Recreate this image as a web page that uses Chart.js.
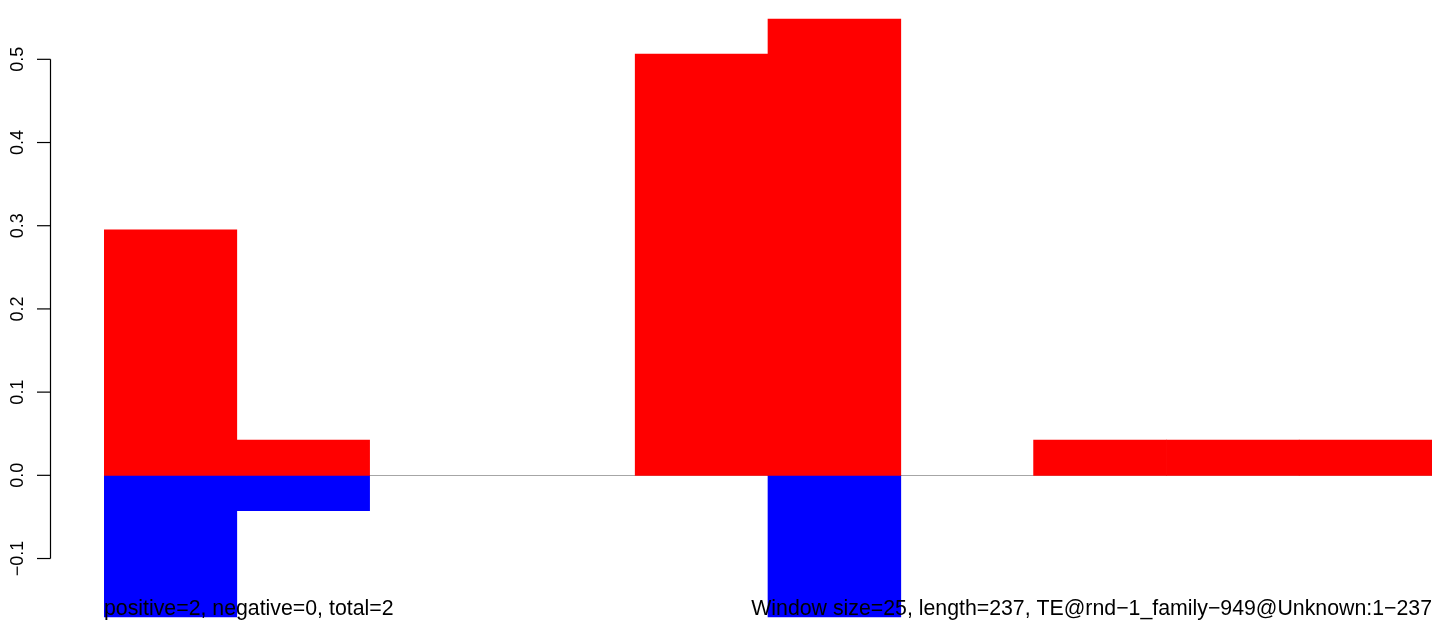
<!DOCTYPE html>
<html>
<head>
<meta charset="utf-8">
<script src="https://cdn.jsdelivr.net/npm/chart.js@4.4.0/dist/chart.umd.min.js"></script>
<style>
  html, body { margin: 0; padding: 0; background: #fff; }
  #wrap { width: 1444px; height: 621px; position: relative; }
</style>
</head>
<body>
<div id="wrap"><canvas id="c" width="1444" height="621"></canvas></div>
<script>
const bins = ["1","2","3","4","5","6","7","8","9","10"];
const positiveValues = [0.295, 0.0424, null, null, 0.5064, 0.5484, null, 0.0424, 0.0424, 0.0424];
const negativeValues = [-0.1703, -0.0425, null, null, null, -0.1703, null, null, null, null];
const yTicks = [-0.1, 0.0, 0.1, 0.2, 0.3, 0.4, 0.5];
const yTickLabels = ["\u22120.1", "0.0", "0.1", "0.2", "0.3", "0.4", "0.5"];
const leftNote = "positive=2, negative=0, total=2";
const rightNote = "Window size=25, length=237, TE@rnd\u22121_family\u2212949@Unknown:1\u2212237";
const yMin = -0.1751, yMax = 0.5713;

const FONT = '"Liberation Sans", Arial, Helvetica, sans-serif';

const rPlugin = {
  id: 'rstyle',
  beforeDatasetsDraw(chart) {
    const ctx = chart.ctx, y = chart.scales.y, a = chart.chartArea;
    const py = Math.round(y.getPixelForValue(0)) + 0.5;
    ctx.save();
    ctx.strokeStyle = '#a6a6a6';
    ctx.lineWidth = 1.2;
    ctx.beginPath();
    ctx.moveTo(a.left, py);
    ctx.lineTo(a.right, py);
    ctx.stroke();
    ctx.restore();
  },
  afterDraw(chart) {
    const ctx = chart.ctx, y = chart.scales.y, a = chart.chartArea;
    ctx.save();
    const ax = 50.5;
    ctx.strokeStyle = '#000';
    ctx.lineWidth = 1.2;
    ctx.beginPath();
    ctx.moveTo(ax, y.getPixelForValue(yTicks[0]));
    ctx.lineTo(ax, y.getPixelForValue(yTicks[yTicks.length - 1]));
    ctx.stroke();
    ctx.fillStyle = '#000';
    ctx.font = '18px ' + FONT;
    ctx.textAlign = 'center';
    ctx.textBaseline = 'alphabetic';
    yTicks.forEach((v, i) => {
      const py = y.getPixelForValue(v);
      ctx.beginPath();
      ctx.moveTo(37, py);
      ctx.lineTo(ax, py);
      ctx.stroke();
      ctx.save();
      ctx.translate(23, py);
      ctx.rotate(-Math.PI / 2);
      ctx.fillText(yTickLabels[i], 0, 0);
      ctx.restore();
    });
    ctx.font = '21.3px ' + FONT;
    ctx.textAlign = 'left';
    ctx.fillText(leftNote, a.left, 615);
    ctx.textAlign = 'right';
    ctx.fillText(rightNote, a.right, 615);
    ctx.restore();
  }
};

new Chart(document.getElementById('c'), {
  type: 'bar',
  data: {
    labels: bins,
    datasets: [
      { data: positiveValues, backgroundColor: '#ff0000', borderWidth: 0, borderSkipped: false },
      { data: negativeValues, backgroundColor: '#0000ff', borderWidth: 0, borderSkipped: false }
    ]
  },
  options: {
    responsive: false,
    animation: false,
    devicePixelRatio: 1,
    barPercentage: 1,
    categoryPercentage: 1,
    layout: { padding: { left: 104, right: 12, top: 0, bottom: 0 } },
    plugins: { legend: { display: false }, tooltip: { enabled: false }, title: { display: false } },
    scales: {
      x: { display: false, stacked: true },
      y: { display: false, stacked: true, min: yMin, max: yMax }
    }
  },
  plugins: [rPlugin]
});
</script>
</body>
</html>
